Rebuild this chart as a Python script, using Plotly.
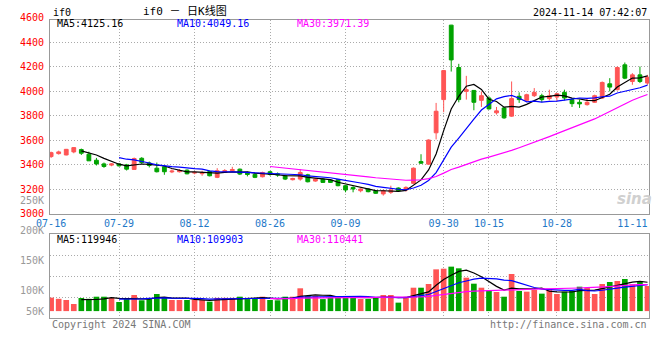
import plotly.graph_objects as go

# ---------------- data ----------------
dates = ["07-16", "07-17", "07-18", "07-19", "07-22", "07-23", "07-24", "07-25", "07-26", "07-29",
         "07-30", "07-31", "08-01", "08-02", "08-05", "08-06", "08-07", "08-08", "08-09", "08-12",
         "08-13", "08-14", "08-15", "08-16", "08-19", "08-20", "08-21", "08-22", "08-23", "08-26",
         "08-27", "08-28", "08-29", "08-30", "09-02", "09-03", "09-04", "09-05", "09-06", "09-09",
         "09-10", "09-11", "09-12", "09-13", "09-18", "09-19", "09-20", "09-23", "09-24", "09-25",
         "09-26", "09-27", "09-30", "10-08", "10-09", "10-10", "10-11", "10-14", "10-15", "10-16",
         "10-17", "10-18", "10-21", "10-22", "10-23", "10-24", "10-25", "10-28", "10-29", "10-30",
         "10-31", "11-01", "11-04", "11-05", "11-06", "11-07", "11-08", "11-11", "11-12", "11-13"]

opens = [3465, 3489, 3478, 3503, 3522, 3484, 3435, 3405, 3395, 3405,
         3397, 3360, 3451, 3413, 3370, 3381, 3340, 3341, 3354, 3330,
         3325, 3343, 3295, 3335, 3349, 3362, 3330, 3319, 3300, 3341,
         3324, 3308, 3276, 3281, 3316, 3265, 3281, 3273, 3276, 3227,
         3213, 3186, 3200, 3186, 3160, 3173, 3208, 3192, 3246, 3424,
         3403, 3659, 3930, 4538, 4192, 3997, 4005, 3924, 3943, 3822,
         3862, 3795, 3957, 3924, 3962, 3962, 3938, 3951, 3989, 3930,
         3908, 3889, 3908, 3943, 4059, 4011, 4214, 4078, 4132, 4065]
highs = [3505, 3513, 3527, 3543, 3530, 3505, 3454, 3416, 3412, 3411,
         3405, 3457, 3460, 3424, 3416, 3384, 3360, 3362, 3360, 3343,
         3349, 3349, 3370, 3362, 3381, 3367, 3341, 3330, 3341, 3349,
         3335, 3316, 3292, 3362, 3324, 3286, 3289, 3281, 3281, 3232,
         3222, 3205, 3205, 3192, 3195, 3227, 3213, 3222, 3376, 3484,
         3605, 3903, 4172, 4540, 4222, 4124, 4008, 3997, 3957, 3870,
         3870, 4078, 3989, 3978, 4024, 3978, 4011, 3984, 4011, 3943,
         3930, 3943, 3970, 4078, 4105, 4200, 4233, 4146, 4200, 4132]
lows = [3454, 3481, 3475, 3492, 3478, 3430, 3392, 3373, 3386, 3384,
        3351, 3357, 3405, 3376, 3335, 3316, 3330, 3335, 3320, 3320,
        3308, 3303, 3289, 3333, 3341, 3314, 3303, 3289, 3295, 3308,
        3300, 3273, 3270, 3268, 3254, 3259, 3249, 3249, 3222, 3173,
        3173, 3173, 3173, 3160, 3146, 3160, 3178, 3178, 3240, 3405,
        3398, 3605, 3827, 4159, 3908, 3930, 3843, 3870, 3849, 3808,
        3773, 3789, 3903, 3916, 3951, 3908, 3924, 3916, 3924, 3870,
        3862, 3881, 3903, 3935, 3997, 4005, 4097, 4051, 4065, 4051]
closes = [3497, 3503, 3524, 3538, 3492, 3430, 3405, 3384, 3405, 3389,
          3362, 3449, 3416, 3392, 3341, 3341, 3346, 3351, 3324, 3335,
          3332, 3308, 3349, 3351, 3359, 3322, 3319, 3295, 3335, 3319,
          3314, 3281, 3286, 3335, 3259, 3281, 3254, 3254, 3227, 3192,
          3200, 3200, 3178, 3165, 3186, 3192, 3186, 3213, 3370, 3411,
          3600, 3835, 4167, 4254, 3930, 4011, 3908, 3962, 3854, 3838,
          3781, 3938, 3930, 3970, 3989, 3930, 3962, 3978, 3943, 3897,
          3895, 3908, 3962, 4070, 4032, 4192, 4105, 4132, 4078, 4113]
volumes = [88400, 86500, 84500, 77800, 87800, 86500, 90000, 90000, 87800, 81200,
           86200, 92800, 84000, 86000, 94500, 89500, 84500, 84500, 84500, 84500,
           84500, 81700, 88000, 88000, 88000, 90000, 86000, 87500, 90000, 84500,
           84000, 90000, 90000, 104000, 91000, 91000, 86000, 88900, 88900, 88900,
           91200, 86200, 86200, 89500, 92800, 92800, 80100, 88400, 105000, 105000,
           111200, 135600, 136700, 140100, 137300, 121700, 111700, 105000, 100000, 97800,
           90000, 127800, 99500, 98400, 101200, 95100, 101200, 94500, 98400, 100000,
           106700, 105000, 94500, 111200, 114500, 116200, 119500, 110600, 116200, 107800]

date_labels = ["07-16", "07-29", "08-12", "08-26", "09-09", "09-30", "10-15", "10-28", "11-11"]
grid_dates = ["07-29", "08-12", "08-26", "09-09", "09-30", "10-15", "10-28"]
price_tick_vals = [3000, 3200, 3400, 3600, 3800, 4000, 4200, 4400, 4600]
price_tick_text = ["3000", "3200", "3400", "3600", "3800", "4000", "4200", "4400", "4600"]
vol_tick_vals = [50000, 100000, 150000, 200000, 250000]
vol_tick_text = ["50K", "100K", "150K", "200K", "250K"]
ma_periods = [5, 10, 30]
ma_price_text = ["MA5:4125.16", "MA10:4049.16", "MA30:3971.39"]
ma_vol_text = ["MA5:119946", "MA10:109903", "MA30:110441"]

# ---------------- style / layout constants ----------------
W, H = 660, 360
ML, MR, MT, MB = 50, 11, 20, 42
PW, PH = W - ML - MR, H - MT - MB
RED, GREEN = "#FF5555", "#00A300"
MA_COLORS = ["#000000", "#0000FF", "#FF00FF"]
GRID = "#AAAAAA"
BORDER = "#999999"
MONO = "DejaVu Sans Mono, Liberation Mono, monospace"
PRICE_RANGE = [3000, 4580]
PRICE_DOM = [(318 - 213.5) / PH, 1.0]
VOL_RANGE = [54500, 194000]
VOL_DOM = [0.0, (318 - 234.3) / PH]
VOL_BASE = 66000

n = len(dates)
idx = list(range(n))
X_RANGE = [-0.15, n - 1 + 0.2]


def ma(vals, p):
    return [sum(vals[i - p + 1:i + 1]) / p if i >= p - 1 else None for i in range(len(vals))]


def to_paper(v, rng, dom):
    return dom[0] + (v - rng[0]) / (rng[1] - rng[0]) * (dom[1] - dom[0])


def px_x(px):
    return (px - ML) / PW


def px_y(py):
    return (H - MB - py) / PH


fig = go.Figure()

fig.add_trace(go.Candlestick(
    x=idx, open=opens, high=highs, low=lows, close=closes,
    increasing=dict(line=dict(color=RED, width=1), fillcolor=RED),
    decreasing=dict(line=dict(color=GREEN, width=1), fillcolor=GREEN),
    whiskerwidth=0, xaxis="x", yaxis="y", showlegend=False, hoverinfo="skip"))

for p, c in zip(ma_periods, MA_COLORS):
    fig.add_trace(go.Scatter(x=idx, y=ma(closes, p), mode="lines",
                             line=dict(color=c, width=1.2), xaxis="x", yaxis="y",
                             showlegend=False, hoverinfo="skip"))

bar_colors = [RED if c >= o else GREEN for o, c in zip(opens, closes)]
fig.add_trace(go.Bar(x=idx, y=[v - VOL_BASE for v in volumes], base=VOL_BASE,
                     marker=dict(color=bar_colors, line=dict(width=0)),
                     xaxis="x2", yaxis="y2", showlegend=False, hoverinfo="skip"))

for p, c in zip(ma_periods, MA_COLORS):
    fig.add_trace(go.Scatter(x=idx, y=ma(volumes, p), mode="lines",
                             line=dict(color=c, width=1.2), xaxis="x2", yaxis="y2",
                             showlegend=False, hoverinfo="skip"))

grid_idx = [dates.index(d) for d in grid_dates]
label_idx = [dates.index(d) for d in date_labels]
vol_grid = [VOL_RANGE[0] + k * (VOL_RANGE[1] - VOL_RANGE[0]) / 4 for k in (1, 2, 3)]

ann = []
for v, t in zip(price_tick_vals, price_tick_text):
    ann.append(dict(xref="paper", yref="paper", x=px_x(46), y=to_paper(v, PRICE_RANGE, PRICE_DOM),
                    xanchor="right", yanchor="middle", text=t, showarrow=False,
                    font=dict(family=MONO, size=10, color="#FF0000")))
for v, t in zip(vol_tick_vals, vol_tick_text):
    ann.append(dict(xref="paper", yref="paper", x=px_x(46),
                    y=to_paper(max(v, VOL_BASE), VOL_RANGE, VOL_DOM),
                    xanchor="right", yanchor="middle", text=t, showarrow=False,
                    font=dict(family=MONO, size=10, color="#999999")))
for t, c, xp in zip(ma_price_text, MA_COLORS, [55, 175, 295]):
    ann.append(dict(xref="paper", yref="paper", x=px_x(xp), y=px_y(24), xanchor="left",
                    yanchor="middle", text=t, showarrow=False,
                    font=dict(family=MONO, size=10, color=c)))
for t, c, xp in zip(ma_vol_text, MA_COLORS, [55, 175, 295]):
    ann.append(dict(xref="paper", yref="paper", x=px_x(xp), y=px_y(239), xanchor="left",
                    yanchor="middle", text=t, showarrow=False,
                    font=dict(family=MONO, size=10, color=c)))
ann += [
    dict(xref="paper", yref="paper", x=px_x(51), y=px_y(12), xanchor="left", yanchor="middle",
         text="if0", showarrow=False, font=dict(family=MONO, size=10, color="#000")),
    dict(xref="paper", yref="paper", x=px_x(185), y=px_y(11), xanchor="center", yanchor="middle",
         text="if0 － 日K线图", showarrow=False,
         font=dict(family="DejaVu Sans Mono, Noto Sans CJK SC", size=11, color="#000")),
    dict(xref="paper", yref="paper", x=1.0, y=px_y(12), xanchor="right", yanchor="middle",
         text="2024-11-14 07:42:07", showarrow=False, font=dict(family=MONO, size=10, color="#000")),
    dict(xref="paper", yref="paper", x=0.0, y=px_y(324), xanchor="left", yanchor="middle",
         text="Copyright 2024 SINA.COM", showarrow=False, font=dict(family=MONO, size=10, color="#777")),
    dict(xref="paper", yref="paper", x=1.0, y=px_y(324), xanchor="right", yanchor="middle",
         text="http://finance.sina.com.cn", showarrow=False, font=dict(family=MONO, size=10, color="#777")),
    dict(xref="paper", yref="paper", x=px_x(634), y=px_y(199), xanchor="center", yanchor="middle",
         text="<b><i>sina</i></b>", showarrow=False,
         font=dict(family="DejaVu Sans", size=15, color="#D0D0D0")),
]

fig.update_layout(
    width=W, height=H, margin=dict(l=ML, r=MR, t=MT, b=MB, pad=0),
    paper_bgcolor="white", plot_bgcolor="white", showlegend=False,
    bargap=0.25, boxgap=0.28,
    xaxis=dict(domain=[0, 1], anchor="y", range=X_RANGE, tickmode="array",
               tickvals=label_idx, ticktext=date_labels, ticks="", showgrid=False,
               tickfont=dict(family=MONO, size=10, color="#1E78C8"),
               showline=True, mirror=True, linecolor=BORDER, linewidth=1, zeroline=False,
               rangeslider=dict(visible=False),
               minor=dict(tickmode="array", tickvals=grid_idx, showgrid=True, gridcolor=GRID,
                          griddash="1px,2px", gridwidth=1, ticks="")),
    yaxis=dict(domain=PRICE_DOM, anchor="x", range=PRICE_RANGE, tickmode="array",
               tickvals=price_tick_vals[1:-1], showticklabels=False, ticks="",
               showgrid=True, gridcolor=GRID, griddash="1px,2px", gridwidth=1,
               showline=True, mirror=True, linecolor=BORDER, linewidth=1, zeroline=False),
    xaxis2=dict(domain=[0, 1], anchor="y2", range=X_RANGE, matches="x", tickmode="array",
                tickvals=grid_idx, showticklabels=False, ticks="", showgrid=True,
                gridcolor=GRID, griddash="1px,2px", gridwidth=1,
                showline=True, mirror=True, linecolor=BORDER, linewidth=1, zeroline=False),
    yaxis2=dict(domain=VOL_DOM, anchor="x2", range=VOL_RANGE, tickmode="array",
                tickvals=vol_grid, showticklabels=False, ticks="", showgrid=True,
                gridcolor=GRID, griddash="1px,2px", gridwidth=1,
                showline=True, mirror=True, linecolor=BORDER, linewidth=1, zeroline=False),
    annotations=ann,
)

fig.write_html("out.html", config={"displayModeBar": False},
               post_script="document.body.style.margin='0';document.body.style.overflow='hidden';")
